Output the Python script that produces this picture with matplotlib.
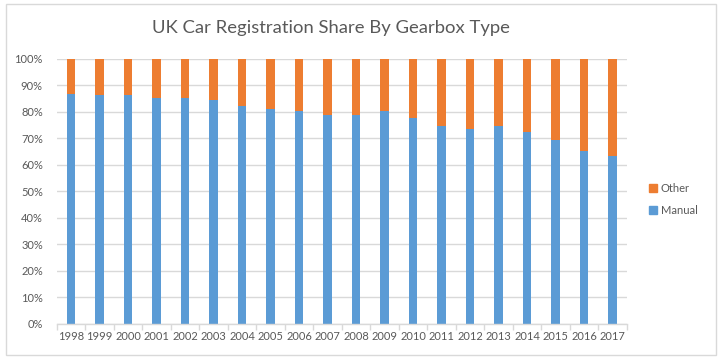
import matplotlib
matplotlib.use("Agg")
import matplotlib.pyplot as plt
from matplotlib.patches import Rectangle
from matplotlib.lines import Line2D
import numpy as np

plt.rcParams['font.family'] = ['Lato', 'DejaVu Sans']

years = ['1998', '1999', '2000', '2001', '2002', '2003', '2004', '2005', '2006', '2007',
         '2008', '2009', '2010', '2011', '2012', '2013', '2014', '2015', '2016', '2017']
manual = [86.8, 86.4, 86.2, 85.3, 85.3, 84.2, 82.0, 81.1, 80.1, 78.6,
          78.9, 80.4, 77.7, 74.5, 73.4, 74.7, 72.5, 69.4, 65.3, 63.4]
other = [100 - m for m in manual]

blue = '#5B9BD5'
orange = '#ED7D31'
grid_c = '#D9D9D9'
text_c = '#595959'

W, H = 719, 358
fig = plt.figure(figsize=(W / 100, H / 100), dpi=100)

# outer border
fig.patches.append(Rectangle((6 / W, 1 - 355 / H), 710 / W, 351 / H, transform=fig.transFigure,
                             fill=False, edgecolor='#D9D9D9', linewidth=1))

ax = fig.add_axes([56.75 / W, 1 - 324 / H, 570 / W, (324 - 58.5) / H])
x = np.arange(len(years))
width = 0.31
ax.bar(x, manual, width, color=blue, label='Manual', zorder=3)
ax.bar(x, other, width, bottom=manual, color=orange, label='Other', zorder=3)

ax.set_xlim(-0.5, len(years) - 0.5)
ax.set_ylim(0, 100)
ax.set_yticks(np.arange(0, 101, 10))
ax.set_yticklabels([f'{v}%' for v in range(0, 101, 10)])
ax.yaxis.grid(True, color=grid_c, linewidth=1, zorder=0)
ax.set_xticks(x)
ax.set_xticklabels(years)
ax.set_xticks(np.arange(-0.5, len(years), 1), minor=True)
ax.tick_params(axis='x', which='major', length=0, pad=5, labelsize=8, labelcolor=text_c)
ax.tick_params(axis='x', which='minor', length=4, color=grid_c, width=1)
ax.tick_params(axis='y', length=0, pad=10, labelsize=8, labelcolor=text_c)
for s in ['top', 'right', 'left']:
    ax.spines[s].set_visible(False)
ax.spines['bottom'].set_color(grid_c)
ax.spines['bottom'].set_linewidth(1)
ax.spines['bottom'].set_zorder(4)

fig.text(331 / W, 1 - 28 / H, 'UK Car Registration Share By Gearbox Type',
         ha='center', va='center', fontsize=13.3, color=text_c)

handles = [Line2D([], [], marker='s', linestyle='none', markersize=6, color=orange),
           Line2D([], [], marker='s', linestyle='none', markersize=6, color=blue)]
leg = fig.legend(handles, ['Other', 'Manual'], loc='center left',
                 bbox_to_anchor=(644 / W, 1 - 199.5 / H), frameon=False,
                 fontsize=8, handlelength=0.6, handletextpad=0.4, labelspacing=1.0,
                 borderpad=0, labelcolor=text_c)

fig.savefig('out.png', dpi=100)
